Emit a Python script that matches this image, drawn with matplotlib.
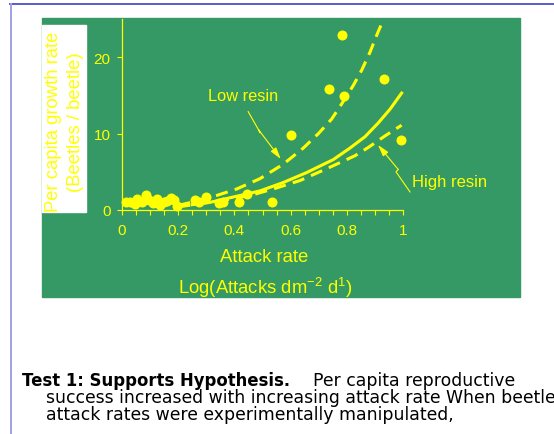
import numpy as np
import matplotlib
matplotlib.use("Agg")
import matplotlib.pyplot as plt
from matplotlib.patches import Rectangle
from matplotlib.lines import Line2D

plt.rcParams['font.family'] = ['Liberation Sans', 'DejaVu Sans']
plt.rcParams['mathtext.fontset'] = 'custom'
plt.rcParams['mathtext.rm'] = 'Liberation Sans'

# observed beetle data (attack rate vs per capita growth rate)
attack_obs = [0.015, 0.03, 0.045, 0.055, 0.07, 0.085, 0.095, 0.11, 0.125, 0.135,
              0.15, 0.16, 0.175, 0.185, 0.195, 0.26, 0.275, 0.30, 0.345, 0.36,
              0.415, 0.445, 0.535, 0.60, 0.735, 0.782, 0.79, 0.934, 0.994]
growth_obs = [1.0, 1.1, 0.8, 1.4, 1.1, 2.0, 1.3, 0.9, 1.4, 0.7,
              1.1, 1.2, 1.6, 1.3, 0.5, 1.3, 1.1, 1.7, 0.9, 1.1,
              1.1, 2.1, 1.0, 9.8, 15.8, 22.9, 14.9, 17.1, 9.2]

# fitted curves
low_x = [0.2, 0.28, 0.337, 0.408, 0.491, 0.574, 0.645, 0.699, 0.746, 0.782,
         0.823, 0.853, 0.883, 0.909, 0.93]
low_y = [0.6, 1.3, 1.9, 2.75, 4.1, 6.0, 8.1, 10.0, 11.9, 13.9,
         16.3, 18.3, 20.7, 23.1, 24.9]
mid_x = [0.25, 0.313, 0.396, 0.491, 0.574, 0.657, 0.752, 0.811, 0.865, 0.912,
         0.954, 0.995]
mid_y = [0.7, 1.0, 1.7, 2.5, 3.6, 4.9, 6.6, 8.1, 9.6, 11.4, 13.2, 15.3]
high_x = [0.2, 0.27, 0.349, 0.456, 0.538, 0.633, 0.728, 0.829, 0.877, 0.936, 0.995]
high_y = [0.4, 0.8, 1.2, 1.9, 2.75, 3.85, 5.4, 7.1, 8.2, 9.7, 11.1]

xticks = [0, 0.2, 0.4, 0.6, 0.8, 1]
xtick_labels = ['0', '0.2', '0.4', '0.6', '0.8', '1']
yticks = [0, 10, 20]

green = '#359966'
yellow = '#ffff00'

W, H = 554, 435


def fx(px):
    return px / W


def fy(py):
    return 1 - py / H


fig = plt.figure(figsize=(5.54, 4.35), dpi=100)

# slide frame lines
fig.add_artist(Line2D([fx(10), 1], [fy(5), fy(5)], color='#5a5ad2', lw=1.4, zorder=-3))
fig.add_artist(Line2D([fx(10.5), fx(10.5)], [fy(5), 0], color='#a0a0e6', lw=1.4, zorder=-3))

# green panel + white patch behind label
fig.add_artist(Rectangle((fx(42), fy(298)), (520 - 42) / W, (298 - 19) / H,
                         transform=fig.transFigure, color=green, zorder=-2))
fig.add_artist(Rectangle((fx(42), fy(213)), (86 - 42) / W, (213 - 26) / H,
                         transform=fig.transFigure, color='white', zorder=-1))

ax = fig.add_axes([fx(122), fy(211), 281 / W, 191 / H])
ax.set_facecolor('none')
ax.set_xlim(0, 1)
ax.set_ylim(0, 25)

ax.plot(low_x, low_y, color=yellow, lw=2.2, dashes=(4, 2.4), clip_on=False)
ax.plot(mid_x, mid_y, color=yellow, lw=2.2, clip_on=False)
ax.plot(high_x, high_y, color=yellow, lw=2.2, dashes=(4, 2.4), clip_on=False)
ax.scatter(attack_obs, growth_obs, s=52, color=yellow, zorder=3, clip_on=False,
           linewidths=0)

for s in ['top', 'right']:
    ax.spines[s].set_visible(False)
for s in ['left', 'bottom']:
    ax.spines[s].set_color(yellow)
    ax.spines[s].set_linewidth(0.9)

ax.set_xticks(xticks)
ax.set_xticklabels(xtick_labels)
ax.set_xticks(np.arange(0, 1.001, 0.05), minor=True)
ax.set_yticks(yticks)
ax.tick_params(axis='both', which='both', colors=yellow, direction='out',
               length=3.6, width=0.8, labelsize=11)
ax.tick_params(axis='x', pad=5.5)
ax.tick_params(axis='y', pad=4.5)

# annotations
ax.text(0.43, 15.0, 'Low resin', color=yellow, fontsize=11.8, ha='center', va='center')
ax.text(1.164, 3.7, 'High resin', color=yellow, fontsize=12, ha='center', va='center',
        clip_on=False)
ax.plot([0.449, 0.492, 0.486], [12.88, 10.1, 10.5], color=yellow, lw=0.8, clip_on=False)
ax.annotate('', xy=(0.565, 6.68), xytext=(0.486, 10.5),
            arrowprops=dict(arrowstyle='-|>,head_length=0.7,head_width=0.2',
                            color=yellow, lw=0.8, shrinkA=0, shrinkB=0))
ax.plot([1.025, 0.975, 0.983], [2.36, 5.0, 5.3], color=yellow, lw=0.8, clip_on=False)
ax.annotate('', xy=(0.911, 8.52), xytext=(0.983, 5.3),
            arrowprops=dict(arrowstyle='-|>,head_length=0.7,head_width=0.2',
                            color=yellow, lw=0.8, shrinkA=0, shrinkB=0),
            annotation_clip=False)

# axis titles
fig.text(fx(53.3), fy(122), 'Per capita growth rate', rotation=90, color=yellow,
         fontsize=13.3, ha='center', va='center')
fig.text(fx(75), fy(122.5), '(Beetles / beetle)', rotation=90, color=yellow,
         fontsize=13.3, ha='center', va='center')
fig.text(fx(264), fy(257.7), 'Attack rate', color=yellow, fontsize=13.3,
         ha='center', va='center')
fig.text(fx(265), fy(288.3), r'Log(Attacks dm$^{\mathrm{-2}}$ d$^{\mathrm{1}}$)',
         color=yellow, fontsize=13.3, ha='center', va='center')

# slide caption
fig.text(fx(22), fy(386), 'Test 1: Supports Hypothesis.', fontsize=11.9,
         fontweight='bold', family='DejaVu Sans', va='baseline')
fig.text(fx(313), fy(386), 'Per capita reproductive', fontsize=12.4,
         family='DejaVu Sans', va='baseline')
fig.text(fx(46), fy(403), 'success increased with increasing attack rate When beetle',
         fontsize=12.4, family='DejaVu Sans', va='baseline')
fig.text(fx(46), fy(420.5), 'attack rates were experimentally manipulated,',
         fontsize=12.4, family='DejaVu Sans', va='baseline')

fig.savefig('out.png', dpi=100)
